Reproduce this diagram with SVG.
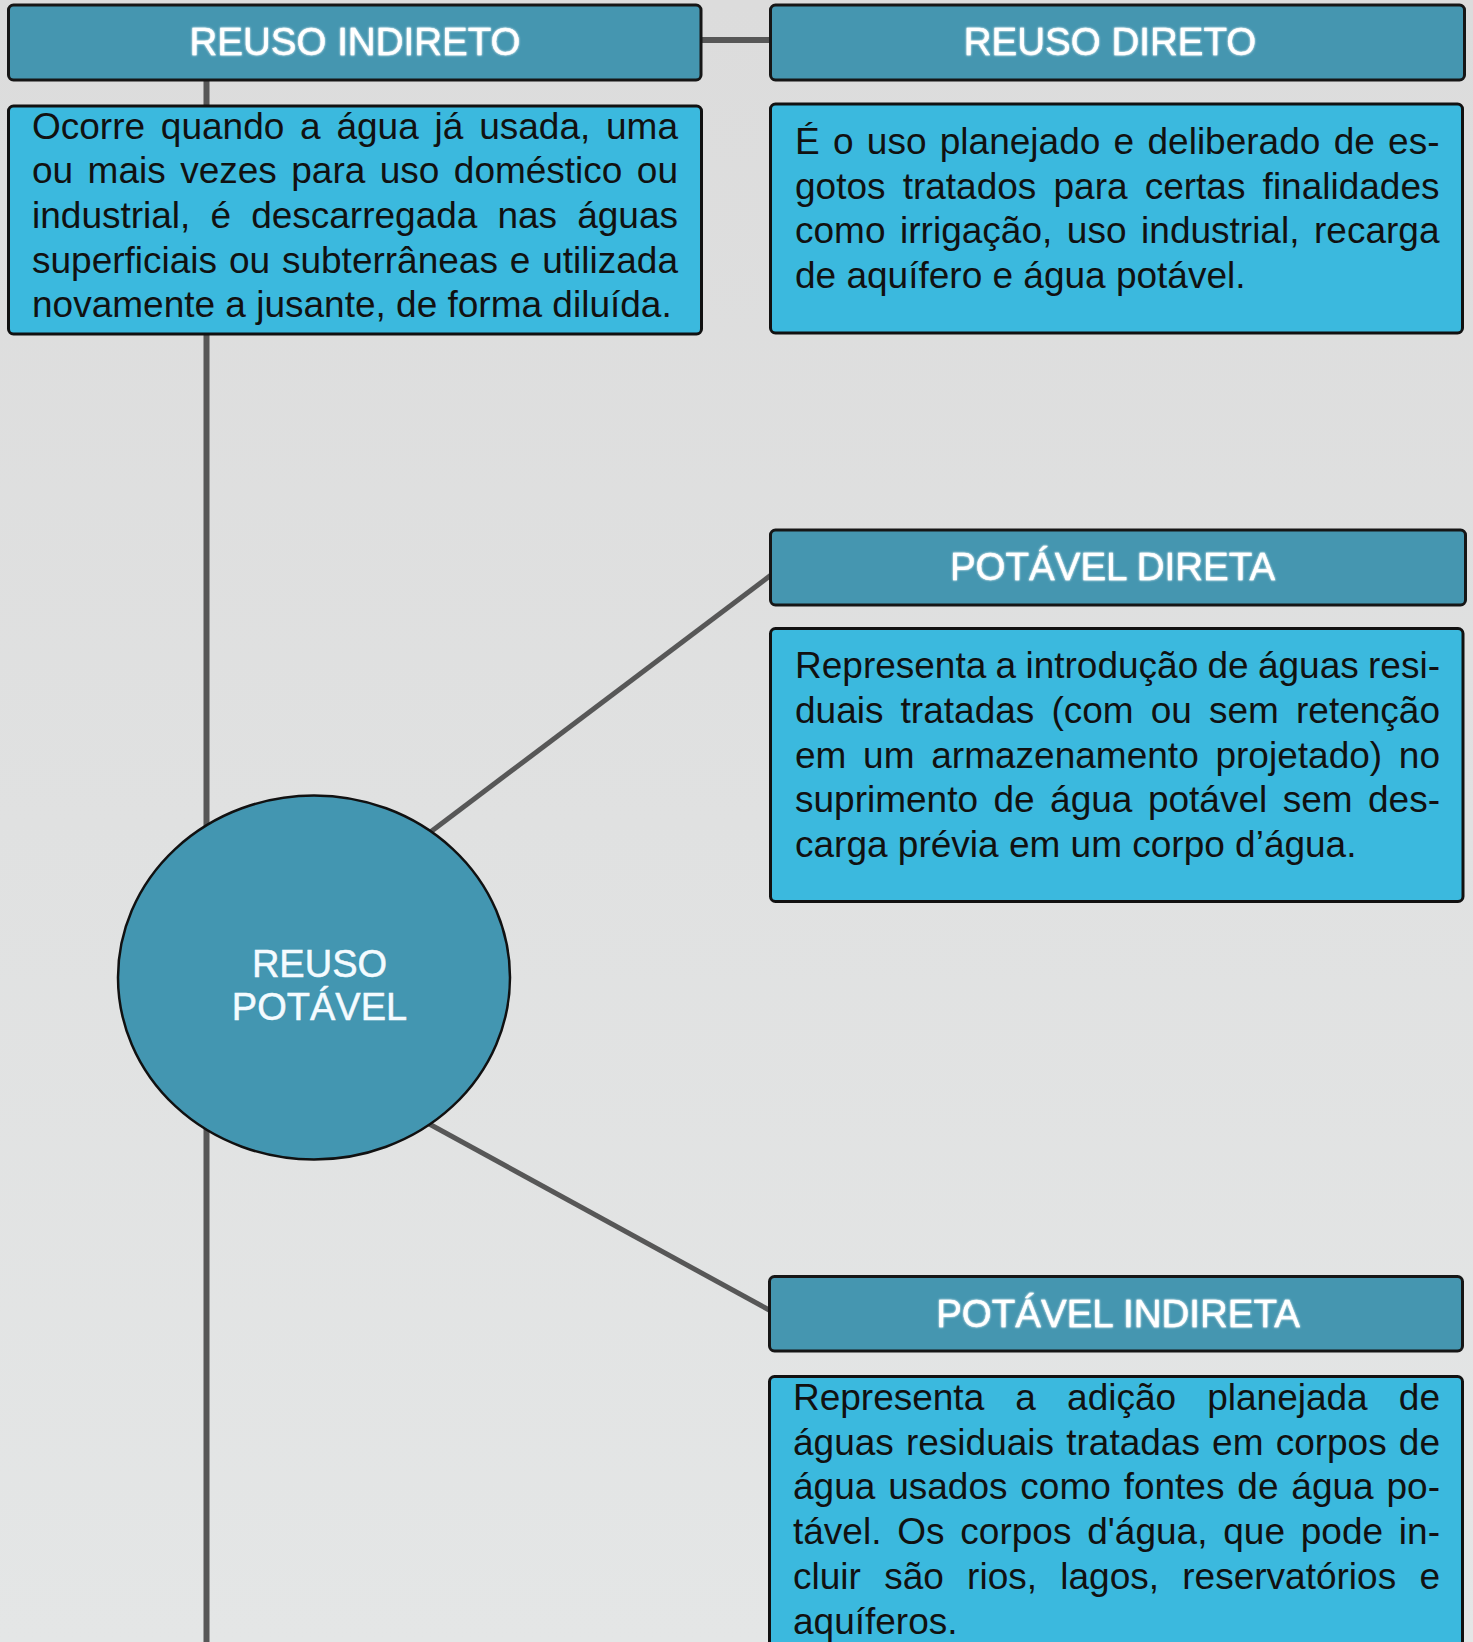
<svg xmlns="http://www.w3.org/2000/svg" width="1473" height="1642" viewBox="0 0 1473 1642">
<defs>
<linearGradient id="bg" x1="0" y1="0" x2="0" y2="1">
<stop offset="0" stop-color="#dcdcdc"/>
<stop offset="1" stop-color="#e4e6e6"/>
</linearGradient>
<filter id="glow" x="-10%" y="-40%" width="120%" height="180%">
<feGaussianBlur in="SourceGraphic" stdDeviation="1.3" result="b"/>
<feMerge><feMergeNode in="b"/><feMergeNode in="SourceGraphic"/></feMerge>
</filter>
</defs>
<style>
.hdr{fill:#4596b0;stroke:#161616;stroke-width:3}
.desc{fill:#3bb9de;stroke:#111;stroke-width:3}
.ht{font-family:"Liberation Sans",Arial,sans-serif;font-size:38.5px;fill:#ffffff;stroke:#ffffff;stroke-width:0.3;text-anchor:middle}
.dt{font-family:"Liberation Sans",Arial,sans-serif;font-size:37px;fill:#111}
.ct{font-family:"Liberation Sans",Arial,sans-serif;font-size:38px;fill:#f4fbff;stroke:#f4fbff;stroke-width:0.5;text-anchor:middle}
.con{stroke:#575757;stroke-width:6;fill:none}
.con2{stroke:#575757;stroke-width:5;fill:none}
</style>
<rect x="0" y="0" width="1473" height="1642" fill="url(#bg)"/>
<g id="connectors">
<line class="con" x1="206.5" y1="78" x2="206.5" y2="1642"/>
<line class="con" x1="700" y1="40" x2="772" y2="40"/>
<line class="con2" x1="400" y1="855" x2="771" y2="575"/>
<line class="con2" x1="400" y1="1108" x2="771" y2="1311"/>
</g>
<g id="reuso-indireto">
<rect class="hdr" x="8.5" y="5" width="692.5" height="75" rx="5"/>
<text class="ht" x="355" y="54.5" filter="url(#glow)">REUSO INDIRETO</text>
</g>
<g id="reuso-indireto-desc">
<rect class="desc" x="8.5" y="106" width="693" height="228" rx="5"/>
<text class="dt" x="32" y="138.5" word-spacing="5.5" textLength="646" lengthAdjust="spacing">Ocorre quando a água já usada, uma</text>
<text class="dt" x="32" y="183.2" word-spacing="4.2" textLength="646" lengthAdjust="spacing">ou mais vezes para uso doméstico ou</text>
<text class="dt" x="32" y="227.9" word-spacing="9.8" textLength="646" lengthAdjust="spacing">industrial, é descarregada nas águas</text>
<text class="dt" x="32" y="272.6" word-spacing="1.6" textLength="646" lengthAdjust="spacing">superficiais ou subterrâneas e utilizada</text>
<text class="dt" x="32" y="317.3">novamente a jusante, de forma diluída.</text>
</g>
<g id="reuso-direto">
<rect class="hdr" x="770.5" y="5" width="694" height="75" rx="5"/>
<text class="ht" x="1110" y="54.5" filter="url(#glow)">REUSO DIRETO</text>
</g>
<g id="reuso-direto-desc">
<rect class="desc" x="770.5" y="104" width="692" height="229" rx="5"/>
<text class="dt" x="795" y="154" word-spacing="3" textLength="644.5" lengthAdjust="spacing">É o uso planejado e deliberado de es-</text>
<text class="dt" x="795" y="198.7" word-spacing="6.9" textLength="644.5" lengthAdjust="spacing">gotos tratados para certas finalidades</text>
<text class="dt" x="795" y="243.4" word-spacing="4.3" textLength="644.5" lengthAdjust="spacing">como irrigação, uso industrial, recarga</text>
<text class="dt" x="795" y="288.1">de aquífero e água potável.</text>
</g>
<g id="potavel-direta">
<rect class="hdr" x="770.5" y="530" width="695" height="75" rx="5"/>
<text class="ht" x="1112.5" y="580" filter="url(#glow)">POTÁVEL DIRETA</text>
</g>
<g id="potavel-direta-desc">
<rect class="desc" x="770.5" y="628.5" width="692.5" height="273" rx="5"/>
<text class="dt" x="795" y="678.3" word-spacing="-1" textLength="645" lengthAdjust="spacing">Representa a introdução de águas resi-</text>
<text class="dt" x="795" y="723" word-spacing="6.8" textLength="645" lengthAdjust="spacing">duais tratadas (com ou sem retenção</text>
<text class="dt" x="795" y="767.7" word-spacing="6.4" textLength="645" lengthAdjust="spacing">em um armazenamento projetado) no</text>
<text class="dt" x="795" y="812.4" word-spacing="5.2" textLength="645" lengthAdjust="spacing">suprimento de água potável sem des-</text>
<text class="dt" x="795" y="857.1">carga prévia em um corpo d’água.</text>
</g>
<g id="potavel-indireta">
<rect class="hdr" x="769.5" y="1276.5" width="693" height="74.5" rx="5"/>
<text class="ht" x="1118" y="1326.5" filter="url(#glow)">POTÁVEL INDIRETA</text>
</g>
<g id="potavel-indireta-desc">
<rect class="desc" x="769.5" y="1376.5" width="693" height="300" rx="5"/>
<text class="dt" x="793" y="1410" word-spacing="20.9" textLength="647" lengthAdjust="spacing">Representa a adição planejada de</text>
<text class="dt" x="793" y="1454.7" word-spacing="1.9" textLength="647" lengthAdjust="spacing">águas residuais tratadas em corpos de</text>
<text class="dt" x="793" y="1499.4" word-spacing="2.6" textLength="647" lengthAdjust="spacing">água usados como fontes de água po-</text>
<text class="dt" x="793" y="1544.1" word-spacing="5.5" textLength="647" lengthAdjust="spacing">tável. Os corpos d'água, que pode in-</text>
<text class="dt" x="793" y="1588.8" word-spacing="13" textLength="647" lengthAdjust="spacing">cluir são rios, lagos, reservatórios e</text>
<text class="dt" x="793" y="1633.5">aquíferos.</text>
</g>
<g id="reuso-potavel">
<ellipse cx="314" cy="977.5" rx="196" ry="182" fill="#4396b1" stroke="#111" stroke-width="2.5"/>
<text class="ct" x="319.5" y="976.5">REUSO</text>
<text class="ct" x="319.5" y="1020">POTÁVEL</text>
</g>
</svg>
